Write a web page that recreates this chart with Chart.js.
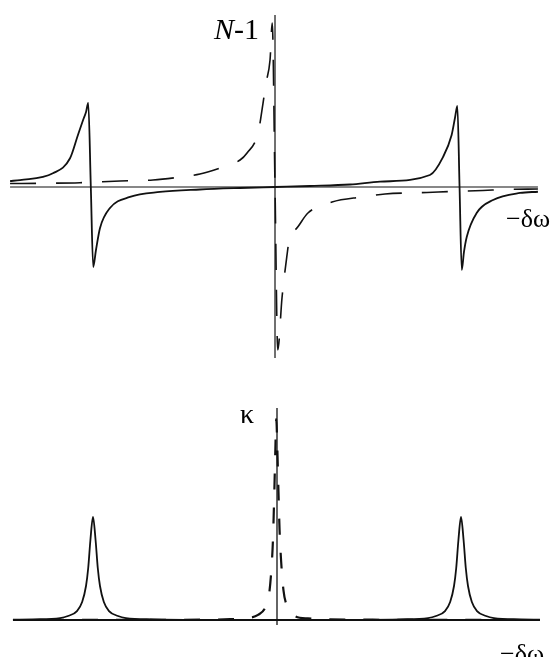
<!DOCTYPE html>
<html>
<head>
<meta charset="utf-8">
<script src="https://cdn.jsdelivr.net/npm/chart.js@4.4.1/dist/chart.umd.min.js"></script>
<style>
  html, body { margin: 0; padding: 0; background: #fff; }
  #wrap { position: relative; width: 554px; height: 657px; overflow: hidden; }
  #wrap canvas { position: absolute; left: 0; }
  .lbl { position: absolute; font-family: "Liberation Serif", "DejaVu Serif", serif; line-height: 1; color: #000; white-space: nowrap; }
</style>
</head>
<body>
<div id="wrap">
  <canvas id="topChart" width="554" height="380" style="top:0"></canvas>
  <canvas id="botChart" width="554" height="277" style="top:380px"></canvas>
  <div class="lbl" style="left:214px;top:14px;font-size:30px"><i>N</i>-1</div>
  <div class="lbl" style="left:506px;top:206px;font-size:26px">&minus;&delta;&omega;</div>
  <div class="lbl" style="left:240px;top:400px;font-size:28px">&kappa;</div>
  <div class="lbl" style="left:500px;top:641px;font-size:26px">&minus;&delta;&omega;</div>
</div>
<script>
// ===== DATA (x = -δω, resonances at ±1) =====
// top panel: N-1, solid = two resonances, dashed = single central one
const dispSolidX = [-1.440, -1.386, -1.207, -1.114, -1.071, -1.043, -1.027, -1.015, -1.001, -0.988,
  -0.973, -0.951, -0.897, -0.788, -0.625, -0.408, -0.190, 0, 0.190, 0.408,
  0.571, 0.842, 0.913, 0.960, 0.978, 0.991, 1.003, 1.015, 1.027, 1.042,
  1.096, 1.185, 1.332, 1.429];
const dispSolidY = [0.072, 0.084, 0.165, 0.346, 0.627, 0.807, 0.904, 1.012, 0, -0.964,
  -0.759, -0.494, -0.253, -0.120, -0.060, -0.030, -0.012, 0, 0.012, 0.030,
  0.064, 0.145, 0.361, 0.627, 0.831, 0.976, 0, -1.0, -0.783, -0.602,
  -0.313, -0.157, -0.072, -0.057];

const dispDashX = [-1.440, -1.250, -1.060, -0.842, -0.663, -0.516, -0.408, -0.299, -0.190, -0.152,
  -0.092, -0.065, -0.049, -0.027, -0.015, 0, 0.015, 0.038, 0.064, 0.082,
  0.109, 0.179, 0.310, 0.473, 0.598, 0.826, 0.962, 1.130, 1.250, 1.429];
const dispDashY = [0.042, 0.045, 0.052, 0.072, 0.084, 0.120, 0.157, 0.229, 0.325, 0.410,
  0.651, 1.012, 1.253, 1.530, 1.976, 0, -1.964, -1.337, -0.843, -0.578,
  -0.518, -0.313, -0.181, -0.120, -0.084, -0.066, -0.054, -0.042, -0.030, -0.024];

// bottom panel: κ
const absSolidX = [-1.435, -1.326, -1.179, -1.136, -1.087, -1.059, -1.038, -1.026, -1.014, -1.0,
  -0.986, -0.974, -0.962, -0.941, -0.913, -0.864, -0.821, -0.674, -0.4, 0,
  0.4, 0.674, 0.821, 0.864, 0.913, 0.941, 0.962, 0.974, 0.986, 1.0,
  1.014, 1.026, 1.038, 1.059, 1.087, 1.136, 1.179, 1.326, 1.429];
const absSolidY = [0.003, 0.007, 0.019, 0.039, 0.087, 0.175, 0.33, 0.505, 0.777, 1.0,
  0.777, 0.505, 0.33, 0.175, 0.087, 0.039, 0.019, 0.007, 0.002, 0.001,
  0.002, 0.007, 0.019, 0.039, 0.087, 0.175, 0.33, 0.505, 0.777, 1.0,
  0.777, 0.505, 0.33, 0.175, 0.087, 0.039, 0.019, 0.007, 0.003];

const absDashX = [-1.429, -0.418, -0.255, -0.163, -0.103, -0.060, -0.042, -0.030, -0.022, -0.015,
  -0.009, -0.004, 0.002, 0.008, 0.014, 0.022, 0.035, 0.054, 0.087, 0.168,
  0.397, 1.429];
const absDashY = [0, 0.003, 0.008, 0.019, 0.049, 0.136, 0.262, 0.505, 0.777, 1.214,
  1.650, 1.951, 1.650, 1.243, 0.874, 0.583, 0.291, 0.136, 0.049, 0.015,
  0.004, 0];

// axis extents
const topAxisH = [-1.440, 1.429];
const topAxisV = [-2.060, 2.072];
const botAxisH = [-1.435, 1.429];
const botAxisV = [-0.049, 2.058];

// ===== HELPERS =====
const pts = (xs, ys) => xs.map((x, i) => ({ x, y: ys[i] }));

const curve = (data, width, dash) => ({
  data,
  borderColor: '#111',
  borderWidth: width,
  borderDash: dash || [],
  pointRadius: 0,
  fill: false,
  cubicInterpolationMode: 'monotone',
});

const axisLine = (data, width) => ({
  data,
  borderColor: '#111',
  borderWidth: width,
  pointRadius: 0,
  fill: false,
  tension: 0,
});

const baseOptions = (xr, yr) => ({
  responsive: false,
  animation: false,
  events: [],
  layout: { padding: 0 },
  plugins: { legend: { display: false }, tooltip: { enabled: false } },
  scales: {
    x: { type: 'linear', min: xr[0], max: xr[1], display: false },
    y: { type: 'linear', min: yr[0], max: yr[1], display: false },
  },
});

// ===== TOP CHART: N-1 =====
new Chart(document.getElementById('topChart'), {
  type: 'line',
  data: {
    datasets: [
      curve(pts(dispSolidX, dispSolidY), 1.8),
      curve(pts(dispDashX, dispDashY), 1.6, [26, 20]),
      axisLine(topAxisH.map(x => ({ x, y: 0 })), 1.2),
      axisLine(topAxisV.map(y => ({ x: 0, y })), 1.2),
    ]
  },
  options: baseOptions([-1.4946, 1.5163], [-2.3253, 2.2530])
});

// ===== BOTTOM CHART: κ =====
new Chart(document.getElementById('botChart'), {
  type: 'line',
  data: {
    datasets: [
      curve(pts(absSolidX, absSolidY), 1.8),
      curve(pts(absDashX, absDashY), 2.2, [16, 18]),
      axisLine(botAxisH.map(x => ({ x, y: 0 })), 2.2),
      axisLine(botAxisV.map(y => ({ x: 0, y })), 1.3),
    ]
  },
  options: baseOptions([-1.5054, 1.5054], [-0.3592, 2.3301])
});
</script>
</body>
</html>
